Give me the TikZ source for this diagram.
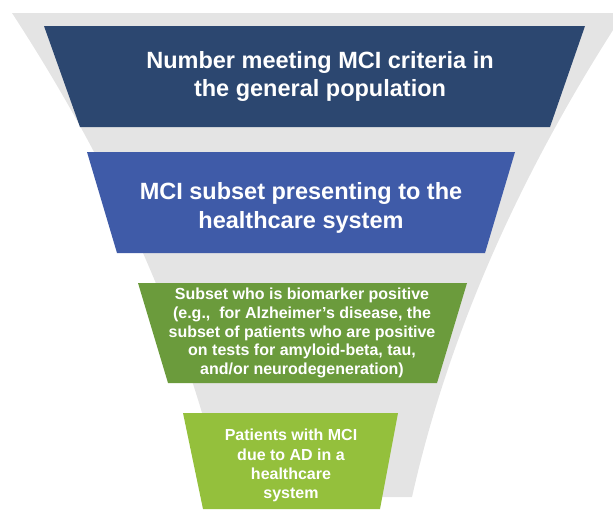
\documentclass[tikz,border=0pt]{standalone}
\usepackage{fontspec}
\setmainfont{Liberation Sans}

\definecolor{funnelgray}{HTML}{E4E4E4}
\definecolor{navyband}{HTML}{2C4770}
\definecolor{blueband}{HTML}{3F5BA8}
\definecolor{greenband}{HTML}{6B9B3C}
\definecolor{limeband}{HTML}{94C03C}

\tikzset{
  bandtext/.style={text=white,align=center,inner sep=0pt},
  bigtext/.style={bandtext,font=\fontsize{23.5}{28.6}\selectfont\bfseries},
  smalltext/.style={bandtext,font=\fontsize{16}{18.6}\selectfont\bfseries}
}

\begin{document}
\begin{tikzpicture}[x=1pt,y=-1pt]
  \useasboundingbox (0,0) rectangle (613,509);
  \clip (0,0) rectangle (613,509);
  % grey funnel behind the bands
  \fill[funnelgray] (12,13) -- (624,13)
    .. controls (519,174) and (448,336) .. (412,497) -- (224,497)
    .. controls (188,336) and (117,174) .. (12,13) -- cycle;

  % bands, widest on top
  \fill[navyband] (44,26) -- (585,26) -- (550,127) -- (80,127) -- cycle;
  \node[bigtext] (general) at (320,76.5)
    {Number meeting MCI criteria in\\the general population};

  \fill[blueband] (87,152) -- (515,152) -- (485,253) -- (117,253) -- cycle;
  \node[bigtext] (presenting) at (301,208)
    {MCI subset presenting to the\\healthcare system};

  \fill[greenband] (138,283) -- (467,283) -- (437,383) -- (168,383) -- cycle;
  \node[smalltext] (biomarker) at (302,333)
    {Subset who is biomarker positive\\(e.g.,\ \ for Alzheimer’s disease, the\\subset of patients who are positive\\on tests for amyloid-beta, tau,\\and/or neurodegeneration)};

  \fill[limeband] (183,413) -- (398,413) -- (380,509) -- (203,509) -- cycle;
  \node[smalltext,font=\fontsize{16}{19.2}\selectfont\bfseries] (duetoad) at (291,465.5)
    {Patients with MCI\\due to AD in a\\healthcare\\system};
\end{tikzpicture}
\end{document}
